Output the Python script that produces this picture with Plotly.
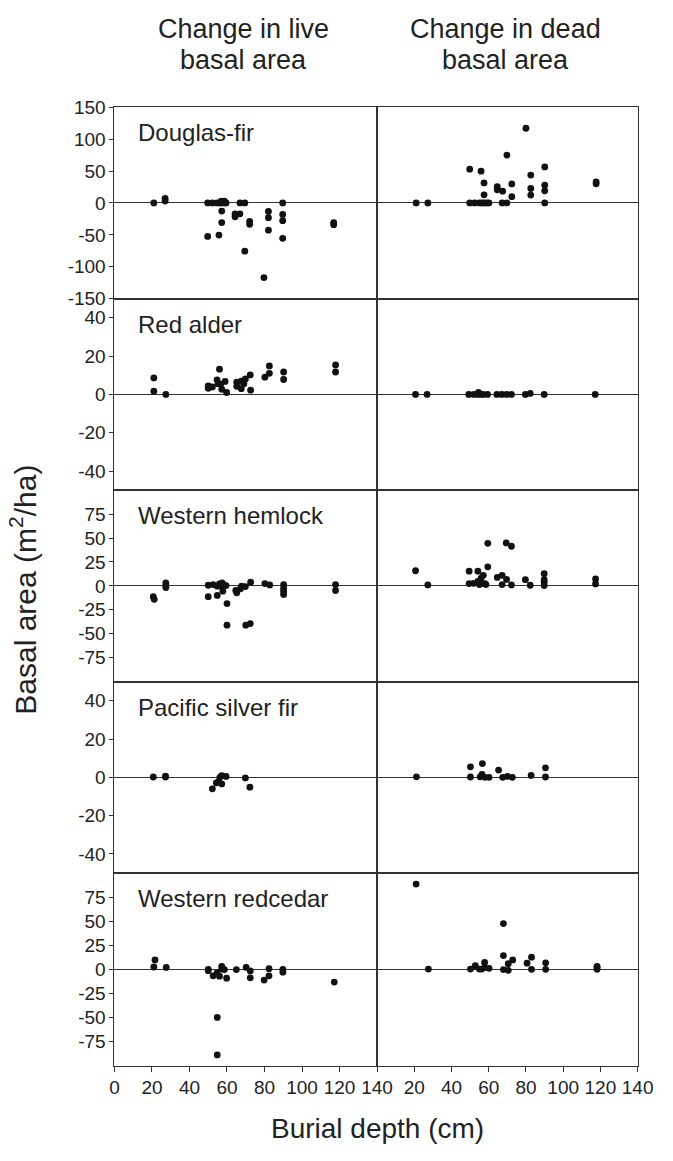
import plotly.graph_objects as go

# ---------------- data (burial depth cm, change in basal area m2/ha) ----------------
species = ["Douglas-fir", "Red alder", "Western hemlock", "Pacific silver fir", "Western redcedar"]

df_live_x = [21, 27, 27, 49.7, 52.2, 54.7, 56, 57, 57.2, 58.6, 59.5, 58.6, 57.2, 57.2, 49.7, 55.7,
             66.9, 69.5, 64.3, 64.3, 66.9, 72.1, 72.1, 69.5, 79.7, 82.1, 82.1, 82.1,
             89.7, 89.7, 89.7, 89.7, 116.9, 116.9]
df_live_y = [0, 7, 3, 0, 0, 0, 0, 3, 0, 3, 0, 0, -12.8, -30.8, -52.4, -50.3,
             0, 0, -17, -21.6, -17, -28.8, -33.4, -75.5, -117, -13.4, -23, -42.6,
             0, -18, -27.7, -55.5, -31, -34]

df_dead_x = [21, 27.3, 49.8, 55.9, 57.5, 57.5, 49.8, 52.4, 54.9, 56.3, 57.5, 58.9, 60.1,
             64.6, 64.6, 67.5, 67.2, 69.8, 69.8, 72.4, 72.4, 80, 82.6, 82.6, 82.6,
             90.1, 90.1, 90.1, 90.1, 117.7, 117.7]
df_dead_y = [0, 0, 52.9, 49.8, 31.3, 12.8, 0, 0, 0, 0, 0, 0, 0,
             25.7, 20.5, 18.5, 0, 0, 75, 29.8, 9.8, 117, 43.7, 22.6, 12.3,
             56.5, 27.7, 19, 0, 30, 33]

ra_live_x = [21, 21, 27.4, 50, 50, 52.2, 56, 54.7, 55.2, 56.6, 59, 57.2, 59.8,
             65.2, 65.2, 67.6, 67.6, 69.8, 72.4, 72.6, 69, 80.2, 82.6, 82.6, 90.2, 90.2, 117.9, 117.9]
ra_live_y = [8.6, 1.7, 0, 4.4, 3.2, 3.9, 13.2, 7.6, 5.6, 5.3, 6.8, 2.7, 1,
             6.4, 4.2, 6.9, 3, 8.1, 10.2, 2.2, 5.6, 9, 14.9, 11, 11.7, 7.8, 15.4, 11.7]

ra_dead_x = [20.7, 26.9, 49.3, 51.9, 54, 54.5, 55.7, 57.1, 59.4, 64.4, 67, 69.6, 72.2,
             79.7, 82.3, 89.8, 117.2]
ra_dead_y = [0, 0, 0, 0, 0, 1, 0, 0, 0, 0, 0, 0, 0, 0, 0.5, 0, 0]

wh_live_x = [20.7, 21.2, 27.4, 27.4, 27.4, 50, 50, 52.6, 54.8, 54.8, 56, 56.9, 57.4, 57.8, 58.6, 59.5,
             60, 60, 64.7, 65.2, 67.2, 67.8, 69.8, 70, 72.4, 72.6, 80.2, 82.8,
             90.2, 90.2, 90.2, 90.2, 117.9, 117.9]
wh_live_y = [-11.3, -14, 3, 0.3, -1.7, 0.7, -11.3, 1.4, -0.3, -10, 2, -0.3, 3, -5.5, 0.7, 0.3,
             -18.5, -41, -4.8, -7.2, -3, -0.3, -0.7, -41, -39.4, 3.8, 2.4, 1,
             1.4, -2.4, -5.5, -8.9, 1.4, -4.8]

wh_dead_x = [20.7, 27.3, 49.5, 49.5, 51.9, 54.2, 54.2, 55, 55.9, 56.3, 57.1, 58, 58.5,
             59.5, 59.5, 64.6, 67.2, 67.2, 69.6, 72.2, 69.4, 72.2, 79.7, 82.3,
             89.8, 89.8, 89.8, 89.8, 117.4, 117.4]
wh_dead_y = [15.8, 1, 15.4, 2.4, 2.7, 15.4, 4.8, 1.4, 8.2, 2.7, 11, 2.4, 1.4,
             44.5, 19.9, 8.9, 11, 1.4, 6.8, 1, 44.9, 41.4, 6.5, 0.7,
             12.7, 6.5, 3.8, 0.3, 7.2, 2.1]

ps_live_x = [20.7, 27.2, 27.2, 52.2, 54.3, 55.5, 56.2, 57.2, 57.2, 59.5, 69.8, 72.2]
ps_live_y = [0.2, 0.2, 0.6, -6, -2.9, -2.2, 0, 0.9, -3.4, 0.5, -0.3, -5.1]

ps_dead_x = [21.2, 50.2, 50.2, 55.4, 56.6, 56.4, 58, 60.2, 65.3, 67.5, 70.1, 72.7, 82.8, 90.5, 90.5]
ps_dead_y = [0.3, 5.5, 0.2, 0.3, 7.2, 1.5, 0, 0, 3.8, 0, 0.5, 0, 1, 5, 0.2]

rc_live_x = [21.6, 21, 27.6, 50, 50, 52.6, 54.7, 56, 57.2, 57.2, 58.6, 59.8, 54.8, 54.8,
             65, 70.2, 72.4, 72.4, 79.8, 82.4, 82.4, 89.8, 89.8, 117.2]
rc_live_y = [9.8, 2.4, 2, 0, -1.4, -6.8, -3.7, -7.1, 3, 0.3, -0.3, -9.2, -50, -89,
             -0.3, 2, -1.7, -8.8, -11.2, 0.7, -6.8, 0, -3, -13.2]

rc_dead_x = [21, 27.6, 50.2, 52.8, 55, 56.3, 57.8, 57.8, 60.2, 67.9, 67.9, 67.9, 70.5, 70.5, 72.9,
             80.6, 83, 83, 90.6, 90.6, 118.2, 118.2, 118.2]
rc_dead_y = [88.6, 0.3, 0.3, 3.7, 0.3, 0.3, 7.1, 1.7, 1, 47.5, 14.3, -0.3, -1, 5.8, 9.8,
             6.4, 12.6, 0, 6.8, 0, 3, 1.7, 0]

live_x = [df_live_x, ra_live_x, wh_live_x, ps_live_x, rc_live_x]
live_y = [df_live_y, ra_live_y, wh_live_y, ps_live_y, rc_live_y]
dead_x = [df_dead_x, ra_dead_x, wh_dead_x, ps_dead_x, rc_dead_x]
dead_y = [df_dead_y, ra_dead_y, wh_dead_y, ps_dead_y, rc_dead_y]

y_ranges = [[-150, 150], [-50, 50], [-100, 100], [-50, 50], [-100, 100]]
y_ticks = [[-150, -100, -50, 0, 50, 100, 150],
           [-40, -20, 0, 20, 40],
           [-75, -50, -25, 0, 25, 50, 75],
           [-40, -20, 0, 20, 40],
           [-75, -50, -25, 0, 25, 50, 75]]
x_ticks = [0, 20, 40, 60, 80, 100, 120, 140]
col_title_lines = [["Change in live", "basal area"], ["Change in dead", "basal area"]]
x_title = "Burial depth (cm)"
y_title = "Basal area (m<sup>2</sup>/ha)"

# ---------------- layout geometry (pixels) ----------------
W, H = 673, 1161
X_EDGES = [113, 384, 653]
ROW_EDGES = [99, 294, 489, 684, 879, 1075]
LINE = "#333333"
FONT = "Liberation Sans, Arial, sans-serif"
TICKFONT = dict(family=FONT, size=19, color="#222")


def px_x(v):
    return v / W


def px_y(v):
    return 1 - v / H


fig = go.Figure()
layout = dict(
    width=W, height=H, margin=dict(l=0, r=0, t=0, b=0),
    paper_bgcolor="white", plot_bgcolor="white", showlegend=False,
    font=dict(family=FONT, color="#222"),
)

annotations = []
for r in range(5):
    for c in range(2):
        idx = r * 2 + c + 1
        xs = live_x[r] if c == 0 else dead_x[r]
        ys = live_y[r] if c == 0 else dead_y[r]
        suffix = "" if idx == 1 else str(idx)
        fig.add_trace(go.Scatter(
            x=xs, y=ys, mode="markers",
            marker=dict(size=6.8, color="#111111"),
            xaxis="x" + suffix, yaxis="y" + suffix, cliponaxis=False,
        ))
        bottom = r == 4
        xa = dict(
            domain=[px_x(X_EDGES[c]), px_x(X_EDGES[c + 1])],
            range=[0, 140], anchor="y" + suffix,
            showline=True, mirror=True, linecolor=LINE, linewidth=1,
            showgrid=False, zeroline=False,
            tickvals=x_ticks,
            ticktext=[("" if (c == 1 and v == 0) else str(v)) for v in x_ticks],
            ticks="outside" if bottom else "", ticklen=5, tickcolor=LINE,
            showticklabels=bottom, tickfont=TICKFONT,
        )
        ya = dict(
            domain=[px_y(ROW_EDGES[r + 1]), px_y(ROW_EDGES[r])],
            range=y_ranges[r], anchor="x" + suffix,
            showline=True, mirror=True, linecolor=LINE, linewidth=1,
            showgrid=False, zeroline=True, zerolinecolor=LINE, zerolinewidth=1,
            tickvals=y_ticks[r] if c == 0 else [],
            ticktext=[str(v) for v in y_ticks[r]] if c == 0 else [],
            ticks="outside" if c == 0 else "", ticklen=4, tickcolor=LINE,
            showticklabels=(c == 0), tickfont=TICKFONT,
        )
        layout["xaxis" + suffix] = xa
        layout["yaxis" + suffix] = ya
    annotations.append(dict(
        text=species[r], xref="paper", yref="paper",
        x=px_x(135), y=px_y(ROW_EDGES[r] + 26), xanchor="left", yanchor="middle",
        showarrow=False, font=dict(size=24, family=FONT, color="#222"),
    ))

for c in range(2):
    for k, line in enumerate(col_title_lines[c]):
        annotations.append(dict(
            text=line, xref="paper", yref="paper",
            x=px_x((X_EDGES[c] + X_EDGES[c + 1]) / 2 - 2), y=px_y(19 + 32 * k),
            xanchor="center", yanchor="middle", showarrow=False,
            font=dict(size=27, family=FONT, color="#222"),
        ))

annotations.append(dict(
    text=x_title, xref="paper", yref="paper", x=px_x(384), y=px_y(1139),
    xanchor="center", yanchor="middle", showarrow=False,
    font=dict(size=28, family=FONT, color="#222"),
))
annotations.append(dict(
    text=y_title, xref="paper", yref="paper", x=px_x(19), y=px_y(590),
    xanchor="center", yanchor="middle", showarrow=False, textangle=-90,
    font=dict(size=30, family=FONT, color="#222"),
))
layout["annotations"] = annotations
fig.update_layout(**layout)
fig.write_html("out.html")
